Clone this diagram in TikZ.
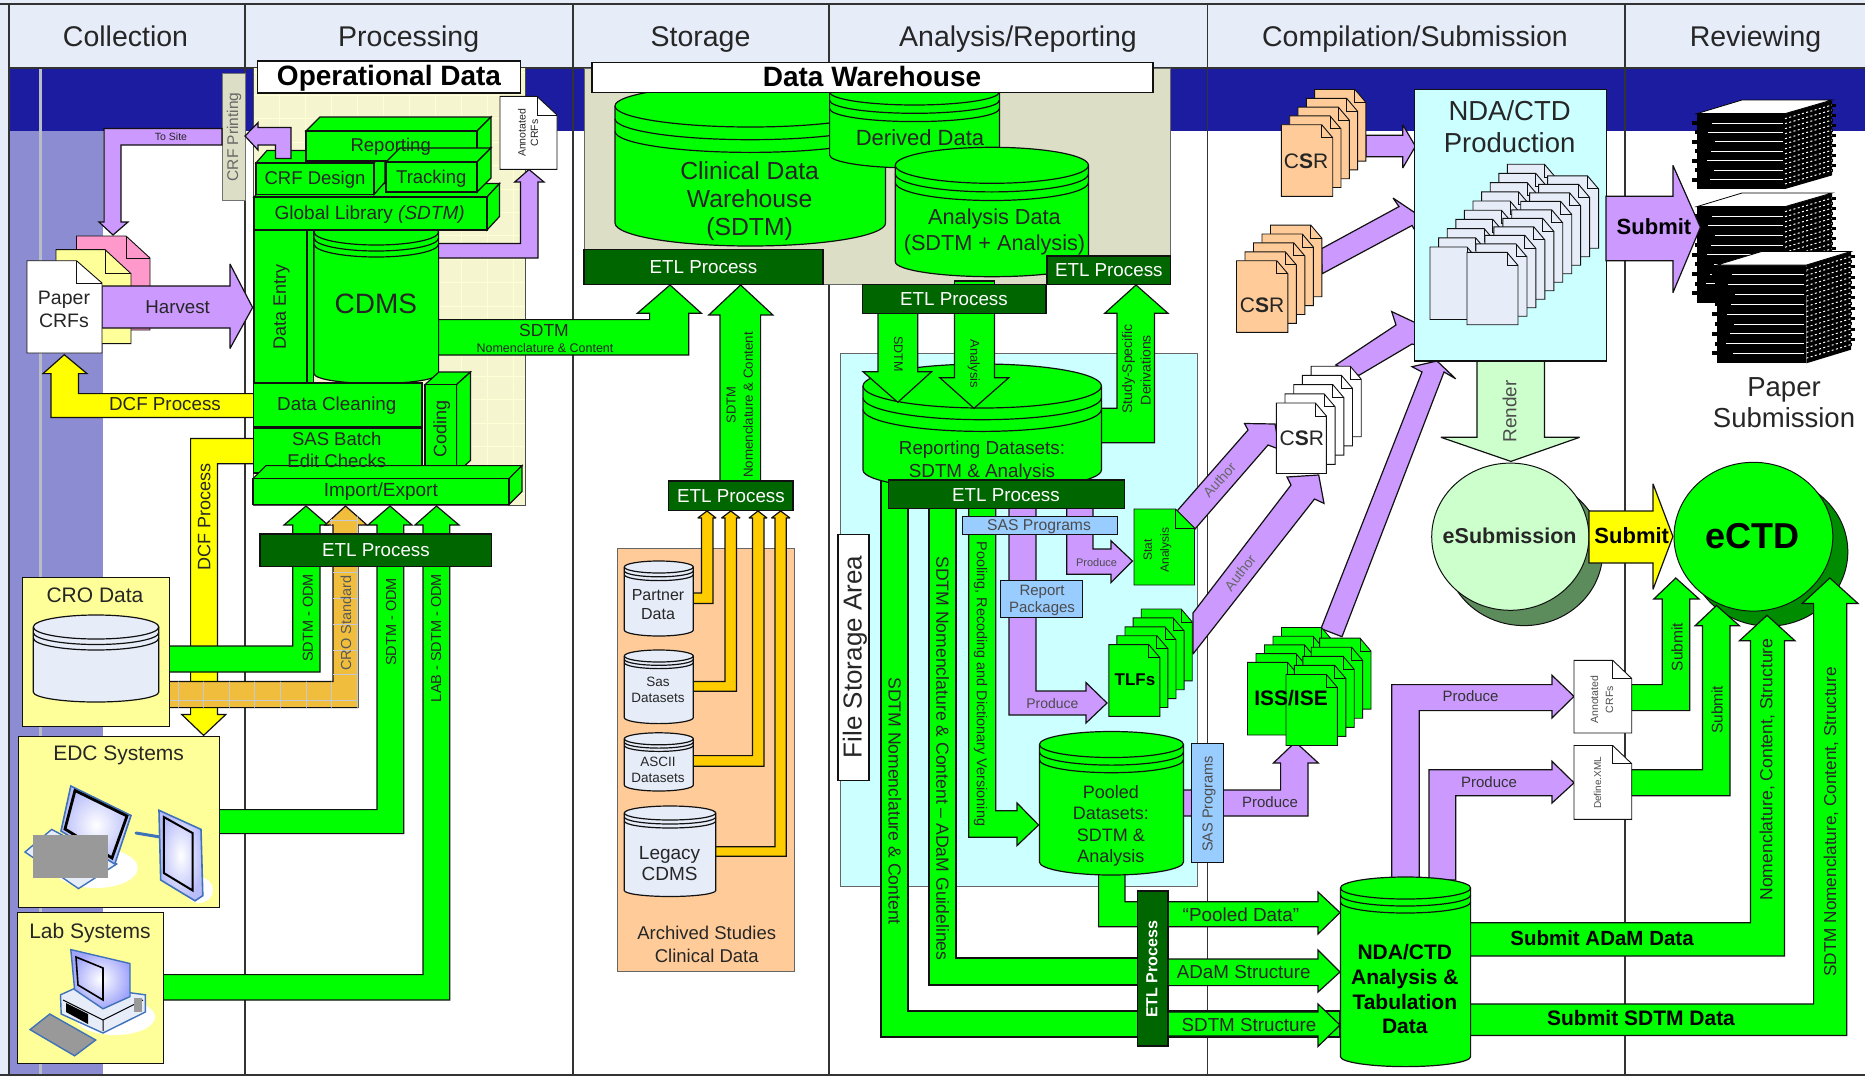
\documentclass[tikz,border=0pt]{standalone}
\usepackage{fontspec}
\setmainfont{Liberation Sans}
\definecolor{grn}{HTML}{00FF00}
\definecolor{dkgrn}{HTML}{006600}
\definecolor{pur}{HTML}{CC99FF}
\definecolor{yel}{HTML}{FFFF00}
\definecolor{org}{HTML}{FFCC00}
\definecolor{tanorg}{HTML}{F0BE3C}
\definecolor{lblue}{HTML}{E6ECF8}
\definecolor{cyanp}{HTML}{CCFFFF}
\definecolor{pale}{HTML}{FFFF99}
\definecolor{peach}{HTML}{FFCC99}
\definecolor{pinkp}{HTML}{FF99CC}
\definecolor{skyb}{HTML}{99CCFF}
\definecolor{lgrn}{HTML}{CCFFCC}
\definecolor{bandc}{HTML}{1C1CA0}
\definecolor{stripe}{HTML}{8C8CD2}
\definecolor{beige}{HTML}{DCDFC6}
\definecolor{ink}{HTML}{111111}
\definecolor{clipb}{HTML}{3F72B8}
\newcommand\fs[2]{\fontsize{#1}{#2}\selectfont}
\newcommand\vs{\leavevmode\vrule width 0pt height .92em depth .2em\relax}
\tikzset{
 every node/.style={execute at begin node=\vs,execute at end node=\vs},
 ol/.style={draw=ink,line width=1.2pt,line join=miter,miter limit=3},
 ga/.style={ol,fill=grn},
 pa/.style={ol,fill=pur},
 ya/.style={ol,fill=yel},
 oa/.style={ol,fill=org},
 ta/.style={ol,fill=tanorg},
 tx/.style={inner sep=0pt,align=center,text=black!85},
 mlt/.style={yshift=-2.4pt},
 etl/.style={draw=ink,line width=1.2pt,fill=dkgrn},
 etltx/.style={inner sep=0pt,align=center,text=white,font=\fs{18.8}{21}},
 thin/.style={draw=ink,line width=.9pt},
}
% front-view database: fill,x1,x2,ycentre,ybottomedge,ry,gap,rybottom
\newcommand\dbcyl[8]{%
 \pgfmathsetmacro\rxx{(#3-#2)/2}%
 \filldraw[ol,fill=#1] (#2,#4) arc[start angle=180,end angle=0,x radius=\rxx pt,y radius=#6pt] -- (#3,#5)
   arc[start angle=0,end angle=-180,x radius=\rxx pt,y radius=#8pt] -- cycle;
 \draw[ol] (#2,#4) arc[start angle=180,end angle=360,x radius=\rxx pt,y radius=#6pt];
 \draw[ol] (#2,{#4+#7}) arc[start angle=180,end angle=360,x radius=\rxx pt,y radius=#6pt];
 \draw[ol] (#2,{#4+2*#7}) arc[start angle=180,end angle=360,x radius=\rxx pt,y radius=#6pt];
}
% 3D box: x1,y1,x2,y2,dx,dy
\newcommand\boxthree[6]{%
 \filldraw[ga] (#1,#2) -- ({#1+#5},{#2-#6}) -- ({#3+#5},{#2-#6}) -- (#3,#2) -- cycle;
 \filldraw[ga] (#3,#2) -- ({#3+#5},{#2-#6}) -- ({#3+#5},{#4-#6}) -- (#3,#4) -- cycle;
 \filldraw[ga] (#1,#2) rectangle (#3,#4);
}
% page: fill,x,y,w,h,foldw,foldh
\newcommand\pagedoc[7]{%
 \filldraw[thin,fill=#1] ({#2},{#3}) -- ({#2+#4-#6},{#3}) -- ({#2+#4},{#3+#7}) -- ({#2+#4},{#3+#5}) -- ({#2},{#3+#5}) -- cycle;
 \draw[thin] ({#2+#4-#6},{#3}) -- ({#2+#4-#6},{#3+#7}) -- ({#2+#4},{#3+#7});
}
% stack of pages: fill,x,y,w,h,lastindex,dx,dy
\newcommand\pagestack[8]{%
 \foreach \i in {#6,...,0}{\pagedoc{#1}{(#2+\i*(#7))}{(#3+\i*(#8))}{#4}{#5}{11}{13}}%
}
% paper pile: xl,xf,xr,ytopfront,ybotfront,rise,topoff,count
\newcommand\paperpile[8]{%
 \fill[black] (#1,#4) -- (#2,#4) -- (#2,#5) -- (#1,#5) -- cycle;
 \fill[black] (#2,#4) -- (#3,{#4-#6}) -- (#3,{#5-#6}) -- (#2,#5) -- cycle;
 \filldraw[fill=white,draw=black,line width=.8pt] (#1,#4) -- ({#1+#7},{#4-#6}) -- (#3,{#4-#6}) -- (#2,#4) -- cycle;
 \foreach \k in {1,...,#8}{%
  \pgfmathsetmacro\yy{#4+\k*(#5-#4)/(#8+1)}%
  \pgfmathsetmacro\xs{#1+8+mod(\k*7,11)}%
  \draw[white,line width=.9pt] (\xs,\yy) -- ({#2-2},\yy);
  \fill[black] ({#1-2-mod(\k,2)*3},{\yy-2}) rectangle (#1,{\yy+2});
 }%
 \foreach \k in {1,...,\numexpr 2*#8\relax}{%
  \pgfmathsetmacro\yz{#4+\k*(#5-#4)/(2*#8+1)}%
  \draw[white,line width=1pt,dash pattern=on 2pt off 2.4pt] (#2,\yz) -- (#3,{\yz-#6});
  \fill[black] (#3,{\yz-#6-1.5}) rectangle ({#3+1+mod(\k,2)*3},{\yz-#6+1.5});
 }%
}
\begin{document}
\begin{tikzpicture}[x=1pt,y=-1pt]
\useasboundingbox (0,0) rectangle (1865,1076);
%----- ground
\fill[white] (0,0) rectangle (1865,1076);
\fill[lblue] (0,0) rectangle (1865,68);
\fill[lblue] (0,0) rectangle (9,1076);
\fill[lblue] (0,1075) rectangle (1865,1076);
\fill[bandc] (9,68) rectangle (1865,131);
\fill[stripe] (9,131) rectangle (103,1075);
\fill[black!20!lblue] (38.5,68) rectangle (42,1075);
\foreach \cx in {9,245,573,829,1207.5,1625}{\draw[black!80,line width=1.2pt] (\cx,4) -- (\cx,1075);}
\draw[black!80,line width=1.2pt] (0,4) -- (1865,4);
\draw[black!80,line width=1.2pt] (9,68) -- (1865,68);
\draw[black!80,line width=1.2pt] (0,1075) -- (1865,1075);
\node[tx,font=\fs{28.5}{30}] (hcol) at (125.5,36) {Collection};
\node[tx,font=\fs{28.5}{30}] (hpro) at (408.7,36) {Processing};
\node[tx,font=\fs{28.5}{30}] (hsto) at (700.5,36) {Storage};
\node[tx,font=\fs{28.5}{30}] (hana) at (1018,36) {Analysis/Reporting};
\node[tx,font=\fs{28.5}{30}] (hcom) at (1415,36) {Compilation/Submission};
\node[tx,font=\fs{28.5}{30}] (hrev) at (1755.5,36) {Reviewing};
%----- panels
\fill[fill={rgb,255:red,245;green,245;blue,207}] (253,68) rectangle (525,505.5);
\begin{scope}
\clip (253,68) rectangle (525,505.5);
\foreach \gx in {253,279,...,530}{\draw[white!60!pale,line width=.8pt] (\gx,68) -- (\gx,506);}
\foreach \gy in {72,95.4,...,510}{\draw[white!60!pale,line width=.8pt] (253,\gy) -- (525,\gy);}
\end{scope}
\draw[black!70,line width=.9pt] (253,68) -- (253,505.5) -- (525,505.5) -- (525,68);
\filldraw[draw=black!60,line width=.9pt,fill=beige] (584.7,68) rectangle (1170.8,284.3);
\filldraw[draw=black!60,line width=.9pt,fill=cyanp] (840,353.3) rectangle (1197.8,886.7);
\filldraw[draw=black!60,line width=.9pt,fill=peach] (617.8,548.4) rectangle (794.5,971.5);
\node[tx,mlt,font=\fs{18.5}{23}] (archived) at (706.7,943.5) {Archived Studies\\Clinical Data};
% back pages of the paper CRFs
\pagedoc{pinkp}{76.5}{236}{73.5}{94}{24}{22}
\pagedoc{pale}{56}{249.6}{75}{94}{26}{24}
%----- CRF printing and site loop
\filldraw[draw=black!55,line width=.9pt,fill=beige] (222,73) rectangle (245,200);
\node[tx,rotate=90,font=\fs{15.5}{17},text=black!60] (crfprint) at (232.5,137) {CRF Printing};
\filldraw[pa] (222,128.5) -- (104,128.5) -- (104,222) -- (99,222) -- (113,235) -- (128,222) -- (121,222) -- (121,145) -- (222,145) -- cycle;
\node[tx,font=\fs{10.5}{12}] (tosite) at (171,136.5) {To Site};
%----- arrows in Processing
\filldraw[pa] (438,243.5) -- (520.5,243.5) -- (520.5,182) -- (514.7,182) -- (529,169.5) -- (544,182) -- (538,182) -- (538,258) -- (438,258) -- cycle;
\filldraw[pa] (102,286) -- (230,286) -- (230,264) -- (252.6,307.5) -- (230,348.5) -- (230,328) -- (102,328) -- cycle;
\filldraw[ya] (254,393.6) -- (78.5,393.6) -- (78.5,373.6) -- (87,373.6) -- (64.3,354.7) -- (43,373.6) -- (51,373.6) -- (51,417.4) -- (254,417.4) -- cycle;
\filldraw[ya] (254,438.4) -- (190.6,438.4) -- (190.6,714.5) -- (181.8,714.5) -- (203.6,735.4) -- (225.8,714.5) -- (217.4,714.5) -- (217.4,463.8) -- (254,463.8) -- cycle;
\filldraw[ga] (438,319.6) -- (649.6,319.6) -- (649.6,313.3) -- (637.3,313.3) -- (670,285) -- (701.4,313.3) -- (688.8,313.3) -- (688.8,355) -- (438,355) -- cycle;
\node[tx,font=\fs{17.5}{20}] (sdtmbar) at (544,330.6) {SDTM};
\node[tx,font=\fs{12.5}{14}] (nomenbar) at (545,347.5) {Nomenclature \& Content};
%----- Green/orange arrows into Import/Export
\filldraw[ga] (169,646) -- (292.8,646) -- (292.8,525) -- (284,525) -- (306,506) -- (328,525) -- (320,525) -- (320,672) -- (169,672) -- cycle;
\def\tanshape{(169,681.5) -- (333,681.5) -- (333,525) -- (325,525) -- (345.5,506) -- (367,525) -- (358,525) -- (358,707.6) -- (169,707.6) -- cycle}
\filldraw[ta] \tanshape;
\begin{scope}
\clip \tanshape;
\foreach \gx in {178,203.6,229,254.5,280,306,331,357}{\draw[black!15!lblue,line width=.9pt] (\gx,500) -- (\gx,708);}
\foreach \gy in {520,546,572,598,624,650,674.5,700.6}{\draw[black!15!lblue,line width=.9pt] (169,\gy) -- (358,\gy);}
\end{scope}
\filldraw[ga] (219,809.6) -- (377,809.6) -- (377,525) -- (368,525) -- (390,506) -- (412,525) -- (403.7,525) -- (403.7,833.6) -- (219,833.6) -- cycle;
\filldraw[ga] (163,974.6) -- (423,974.6) -- (423,525) -- (415,525) -- (436.5,506) -- (459,525) -- (449.7,525) -- (449.7,1000) -- (163,1000) -- cycle;
\filldraw[etl] (260,534) rectangle (491.8,566.5);
\node[etltx] (etlproc) at (376,550) {ETL Process};
\node[tx,rotate=90,font=\fs{14.5}{16}] (odm1) at (307.7,618) {SDTM - ODM};
\node[tx,rotate=90,font=\fs{14.5}{16},text=black!65] (crostd) at (346,623) {CRO Standard};
\node[tx,rotate=90,font=\fs{14.5}{16}] (odm2) at (391,622) {SDTM - ODM};
\node[tx,rotate=90,font=\fs{14.5}{16}] (odm3) at (436,638) {LAB - SDTM - ODM};
%----- Processing stack
\dbcyl{grn}{314}{438.6}{232}{373.6}{13}{6}{10}
\filldraw[ga] (307,230) rectangle (313.5,383);
\filldraw[ga] (254,230) rectangle (307,383);
\node[tx,rotate=90,font=\fs{18}{20}] (dataentry) at (279.4,306.5) {Data Entry};
\node[tx,font=\fs{28}{30}] (cdms) at (375.8,303) {CDMS};
\boxthree{254}{197}{487}{230}{12.5}{13.5}
\boxthree{256}{163}{374}{194.5}{11}{12.5}
\boxthree{306}{131}{477}{161}{14}{14}
\boxthree{386}{162}{477}{192}{14}{14}
\boxthree{425}{384.6}{456.5}{473}{14}{12.6}
\filldraw[ga] (253.5,383) rectangle (422,427);
\filldraw[ga] (253.5,428.7) rectangle (422,473);
\boxthree{253}{478.6}{509}{504.5}{13}{13}
\node[tx,font=\fs{18.5}{21}] (reporting) at (390.7,145) {Reporting};
\node[tx,font=\fs{18.5}{21}] (crfdesign) at (315,178.4) {CRF Design};
\node[tx,font=\fs{18.5}{21}] (tracking) at (431.3,177.3) {Tracking};
\node[tx,font=\fs{19}{21}] (globallib) at (369.7,212.5) {Global Library \textit{(SDTM)}};
\node[tx,font=\fs{18.8}{21}] (cleaning) at (336.8,403.6) {Data Cleaning};
\node[tx,mlt,font=\fs{18.5}{22.4}] (sasbatch) at (336.8,449) {SAS Batch\\Edit Checks};
\node[tx,rotate=90,font=\fs{18}{21}] (coding) at (440,429.4) {Coding};
\node[tx,font=\fs{19}{21}] (importexport) at (380.8,489.7) {Import/Export};
\filldraw[pa] (245,136) -- (258,122.6) -- (258,127.4) -- (291,127.4) -- (291,158.4) -- (275.5,158.4) -- (275.5,145) -- (258,145) -- (258,150) -- cycle;
\node[tx,font=\fs{18.7}{20}] (harvest) at (177.6,306.5) {Harvest};
\node[tx,font=\fs{18.8}{20}] (dcf1) at (165,404) {DCF Process};
\node[tx,rotate=90,font=\fs{18}{20}] (dcf2) at (204,517) {DCF Process};
\filldraw[draw=ink,line width=1.6pt,fill=white] (257.6,61) rectangle (520.5,93);
\node[font=\bfseries\fs{28}{30},inner sep=0pt] (opdata) at (389,76) {Operational Data};
\pagedoc{white}{500}{96.4}{57}{73}{20}{18.6}
\node[tx,rotate=90,font=\fs{10.5}{12.5}] (anno1) at (529,133) {Annotated\\CRFs};
% front paper CRF
\pagedoc{white}{27}{260.7}{75}{92.3}{25.5}{22.3}
\node[tx,mlt,font=\fs{19.5}{23}] (paperc) at (64,309) {Paper\\CRFs};
%----- source boxes
\filldraw[thin,fill=pale] (22,577.7) rectangle (169.5,726.7);
\node[tx,font=\fs{21}{24}] (crod) at (95,595) {CRO Data};
\dbcyl{lblue}{33.3}{158.8}{627}{692}{12}{5.5}{10}
\filldraw[thin,fill=pale] (18.8,736) rectangle (219.3,907);
\node[tx,font=\fs{21}{24}] (edc) at (118.6,753.5) {EDC Systems};
\filldraw[thin,fill=pale] (17,912) rectangle (163.4,1063);
\node[tx,font=\fs{21}{24}] (lab) at (90,931) {Lab Systems};
% laptop
\fill[white] (95.7,868) ellipse[x radius=42pt,y radius=20pt];
\filldraw[draw=clipb,line width=1.4pt,fill=lblue] (25,852) -- (51.7,829.4) -- (116.7,864) -- (78.5,888.6) -- cycle;
\shadedraw[draw=clipb,line width=1.6pt,inner color=white,outer color=lblue!80!blue] (70.8,786) -- (131,815.5) -- (114.8,864) -- (61,831) -- cycle;
\draw[black,line width=2.8pt] (75,790.5) -- (127,816) -- (112,858) -- (65,829) -- cycle;
\fill[black!40] (33,834.7) rectangle (107.5,877.5);
\draw[clipb,line width=3pt,line cap=round] (136,833) -- (172,839);
% PDA
\fill[white] (199,890) ellipse[x radius=14pt,y radius=13pt];
\shadedraw[draw=clipb,line width=1.6pt,inner color=white,outer color=lblue!80!blue] (159,810.3) -- (201,829.4) -- (202.8,895.6) -- (195,900.8) -- (160.7,880) -- cycle;
\draw[black,line width=2pt] (163.8,817) -- (192.5,833) -- (192.5,890.4) -- (163.8,873) -- cycle;
% computer
\fill[white] (115,1017) ellipse[x radius=40pt,y radius=18pt];
\filldraw[draw=clipb,line width=1.4pt,fill=lblue] (60.5,994.8) -- (80,986) -- (145.4,994.8) -- (145.4,1012) -- (103,1033) -- (61.2,1014) -- cycle;
\draw[black,line width=1pt] (63,1000) -- (103,1020) -- (143,1000) (103,1020) -- (103,1031);
\fill[black] (66,1003) -- (88,1014) -- (88,1024) -- (66,1012) -- cycle;
\shadedraw[draw=clipb,line width=1.4pt,inner color=white,outer color=lblue!70!blue] (70.8,949.6) -- (130,963.5) -- (130,996.6) -- (103,1008.8) -- (74.6,989.6) -- cycle;
\draw[black,line width=1.6pt] (76,957) -- (103,968) -- (103,1000) -- (78,985) -- cycle;
\fill[black!40] (134,998) rectangle (142.4,1012);
\filldraw[draw=clipb,line width=1.4pt,fill=black!40] (30,1029.6) -- (49.8,1014) -- (95.7,1040) -- (74.6,1055.8) -- cycle;
%----- Storage: warehouse
\dbcyl{grn}{615}{885.5}{106}{223}{21}{12.7}{23}
\dbcyl{grn}{829.6}{999.4}{92}{155}{13}{8.3}{13}
\dbcyl{grn}{895.3}{1088.4}{165.3}{261.7}{18}{8.6}{15}
\node[tx,mlt,font=\fs{24.7}{28}] (cdw) at (749.6,199) {Clinical Data\\Warehouse\\(SDTM)};
\node[tx,font=\fs{22}{24}] (derived) at (920,137.3) {Derived Data};
\node[tx,mlt,font=\fs{21.7}{26}] (analysisdata) at (994.5,229.7) {Analysis Data\\(SDTM + Analysis)};
\filldraw[draw=ink,line width=1.6pt,fill=white] (592,62.3) rectangle (1153,92.3);
\node[font=\bfseries\fs{28}{30},inner sep=0pt] (dwtitle) at (872,76) {Data Warehouse};
%----- ETL -> warehouse arrows
\filldraw[ga] (720,482) -- (720,315) -- (708.8,315) -- (740.6,285) -- (772.9,315) -- (760.6,315) -- (760.6,482) -- cycle;
\node[tx,rotate=90,font=\fs{13}{15}] (sdtmup) at (731,405) {SDTM};
\node[tx,rotate=90,font=\fs{13.3}{15}] (nomenup) at (748,405) {Nomenclature \& Content};
\filldraw[etl] (584,249.3) rectangle (823,284.3);
\node[etltx] (etlw) at (703.5,266.7) {ETL Process};
\filldraw[ga] (954.5,281) rectangle (994.5,285);
\filldraw[etl] (1047,256) rectangle (1170.8,284.3);
\node[etltx] (etlr) at (1108.8,270) {ETL Process};
\filldraw[etl] (668.8,481) rectangle (792.9,510.5);
\node[etltx] (etla) at (731,496) {ETL Process};
%----- Archived cylinders and orange arrows
\filldraw[oa] (693,593) -- (701.4,593) -- (701.4,518) -- (697.8,518) -- (707,511) -- (716,518) -- (712.9,518) -- (712.9,603.5) -- (693,603.5) -- cycle;
\filldraw[oa] (693,681.4) -- (725,681.4) -- (725,518) -- (721.5,518) -- (730.8,511) -- (740,518) -- (736.5,518) -- (736.5,691.3) -- (693,691.3) -- cycle;
\filldraw[oa] (693,755.6) -- (752.4,755.6) -- (752.4,518) -- (749,518) -- (758,511) -- (767,518) -- (763.9,518) -- (763.9,766.2) -- (693,766.2) -- cycle;
\filldraw[oa] (715,846.8) -- (774.9,846.8) -- (774.9,518) -- (771.5,518) -- (780.6,511) -- (790,518) -- (786.3,518) -- (786.3,856.3) -- (715,856.3) -- cycle;
\dbcyl{lblue}{624.3}{693.3}{567}{630}{6}{3.8}{6}
\dbcyl{lblue}{624.3}{693.3}{656}{717.6}{6}{3.3}{6}
\dbcyl{lblue}{624.3}{693.3}{738.8}{785}{6}{3.3}{6}
\dbcyl{lblue}{624.3}{715.7}{813}{890.5}{7}{4}{6}
\node[tx,mlt,font=\fs{16}{19.5}] (partner) at (658,603.5) {Partner\\Data};
\node[tx,mlt,font=\fs{13.5}{16}] (sas) at (658,688.6) {Sas\\Datasets};
\node[tx,mlt,font=\fs{13.5}{16}] (ascii) at (658,768.5) {ASCII\\Datasets};
\node[tx,mlt,font=\fs{19}{21.5}] (legacy) at (669.6,863.2) {Legacy\\CDMS};
%----- Analysis / Reporting arrows
\filldraw[ga] (881,478) -- (908,478) -- (908,1011) -- (1340,1011) -- (1340,1037) -- (881,1037) -- cycle;
\filldraw[ga] (1160,1012) -- (1318,1012) -- (1318,1004) -- (1340,1025) -- (1318,1046.5) -- (1318,1036) -- (1160,1036) -- cycle;
\filldraw[ga] (929,505) -- (956,505) -- (956,958) -- (1160,958) -- (1160,985) -- (929,985) -- cycle;
\filldraw[ga] (1160,959) -- (1318,959) -- (1318,950) -- (1340,972) -- (1318,992) -- (1318,985.6) -- (1160,985.6) -- cycle;
\filldraw[ga] (1098.6,870) -- (1125,870) -- (1125,901.7) -- (1318,901.7) -- (1318,892) -- (1340,912.6) -- (1318,934) -- (1318,926.8) -- (1098.6,926.8) -- cycle;
\filldraw[ga] (968.8,505) -- (995.7,505) -- (995.7,810.7) -- (1017,810.7) -- (1017,803) -- (1038.6,825) -- (1017,845.6) -- (1017,837.3) -- (968.8,837.3) -- cycle;
\filldraw[pa] (1009,505) -- (1036,505) -- (1036,691) -- (1086,691) -- (1086,682.6) -- (1107,703) -- (1086,723) -- (1086,715) -- (1009,715) -- cycle;
\filldraw[pa] (1066.7,505) -- (1093,505) -- (1093,549) -- (1111,549) -- (1111,540.8) -- (1132.4,561) -- (1111,582.6) -- (1111,574.3) -- (1066.7,574.3) -- cycle;
\filldraw[ga] (1101,408.3) -- (1117,408.3) -- (1117,313.3) -- (1104.7,313.3) -- (1136,285) -- (1168,313.3) -- (1154.5,313.3) -- (1154.5,442.7) -- (1101,442.7) -- cycle;
\node[tx,rotate=90,font=\fs{14}{16}] (study) at (1127,369) {Study-Specific};
\node[tx,rotate=90,font=\fs{14}{16}] (deriv) at (1145.5,370) {Derivations};
\dbcyl{grn}{863}{1101.4}{386}{470}{22}{11.7}{20}
\filldraw[ga] (878,312) -- (917.8,312) -- (917.8,371.7) -- (931.6,371.7) -- (897.8,402.3) -- (863,371.7) -- (878,371.7) -- cycle;
\filldraw[ga] (954.5,312) -- (994.5,312) -- (994.5,377.7) -- (1008.8,377.7) -- (974,408.3) -- (939.8,377.7) -- (954.5,377.7) -- cycle;
\node[tx,rotate=-90,font=\fs{12.5}{14}] (sdtmdown) at (898.6,354) {SDTM};
\node[tx,rotate=-90,font=\fs{13}{15}] (analysisdown) at (975,364) {Analysis};
\filldraw[etl] (862.6,284.3) rectangle (1046,313.3);
\node[etltx] (etlm) at (954,299) {ETL Process};
\node[tx,mlt,font=\fs{18.8}{22.3}] (reportds) at (982,458.8) {Reporting Datasets:\\SDTM \& Analysis};
\filldraw[etl] (888.4,480) rectangle (1124.3,508.3);
\node[etltx] (etlrep) at (1006,494.5) {ETL Process};
\filldraw[draw=ink,line width=1.6pt,fill=white] (837.8,534.4) rectangle (869,780.3);
\node[tx,rotate=90,font=\fs{26}{28}] (fsa) at (852.4,657) {File Storage Area};
\filldraw[thin,fill=skyb] (962.6,516.9) rectangle (1117.8,534.4);
\node[tx,font=\fs{15.7}{17},text=black!70] (sasp) at (1039,524.5) {SAS Programs};
\filldraw[thin,fill=skyb] (1000,580.7) rectangle (1082.6,617.6);
\node[tx,mlt,font=\fs{15}{17.2},text=black!70] (reportp) at (1042,598) {Report\\Packages};
\node[tx,rotate=-90,font=\fs{17.6}{20}] (vsdtm) at (895,801) {SDTM Nomenclature \& Content};
\node[tx,rotate=-90,font=\fs{17.6}{20}] (vadam) at (942.6,758.5) {SDTM Nomenclature \& Content -- ADaM Guidelines};
\node[tx,rotate=-90,font=\fs{14.4}{16}] (vpool) at (982,684) {Pooling, Recoding and Dictionary Versioning};
\node[tx,font=\fs{14}{16},text=black!70] (prodt) at (1052.4,703) {Produce};
\node[tx,font=\fs{11}{13},text=black!70] (prods) at (1096.5,563) {Produce};
% Author arrows
\filldraw[pa] (1177,511) -- (1248,430) -- (1244.5,423.5) -- (1275,424) -- (1279.7,449.4) -- (1268,445) -- (1195,529) -- cycle;
\filldraw[pa] (1193,613) -- (1291,485) -- (1287,477) -- (1318.7,475) -- (1324,503.4) -- (1314.5,499) -- (1193,654) -- cycle;
\node[tx,rotate=48,font=\fs{14}{16},text=black!60] (auth1) at (1219.5,480) {Author};
\node[tx,rotate=52,font=\fs{14}{16},text=black!60] (auth2) at (1240,572.7) {Author};
% Stat analysis and TLFs
\pagedoc{grn}{1134}{509}{60.5}{76}{19}{19}
\node[tx,rotate=90,font=\fs{12}{17}] (stat) at (1157.5,550) {Stat\\Analysis};
\pagestack{grn}{1108.8}{644.6}{51}{71.8}{4}{8.1}{-8.9}
\node[font=\bfseries\fs{17}{19},inner sep=0pt] (tlfs) at (1135,679) {TLFs};
% Pooled and SAS vertical
\filldraw[pa] (1183,790) -- (1280.6,790) -- (1280.6,763) -- (1273.4,763) -- (1295.4,742) -- (1318.3,763) -- (1308,763) -- (1308,816) -- (1183,816) -- cycle;
\node[tx,font=\fs{15}{17},text=black!80] (prodi) at (1270,802) {Produce};
\dbcyl{grn}{1039.4}{1183.5}{744.5}{862}{13}{7.6}{13}
\node[tx,mlt,font=\fs{18}{21.2}] (pooled) at (1110.8,823.5) {Pooled\\Datasets:\\SDTM \&\\Analysis};
\filldraw[thin,fill=skyb] (1191.6,743.4) rectangle (1223.7,862);
\node[tx,rotate=90,font=\fs{14.5}{16},text=black!70] (sasv) at (1207.5,804) {SAS Programs};
\filldraw[etl] (1137.3,891) rectangle (1168,1046);
\node[rotate=90,inner sep=0pt,text=white,font=\bfseries\fs{16}{20}] (etlv) at (1151.6,969.5) {ETL Process};
\node[tx,font=\fs{18.9}{20}] (pooledl) at (1241,914.6) {``Pooled Data''};
\node[tx,font=\fs{18.8}{20}] (adaml) at (1243.7,972) {ADaM Structure};
\node[tx,font=\fs{18.8}{20}] (sdtml) at (1249,1025) {SDTM Structure};
%----- Compilation: arrows into NDA
\filldraw[pa] (1321,628.6) -- (1422,372) -- (1412,366.7) -- (1437,361) -- (1455.7,378.8) -- (1444,372) -- (1342,636.7) -- cycle;
\filldraw[pa] (1366,135.3) -- (1402.7,135.3) -- (1402.7,124.7) -- (1415.4,146.3) -- (1402.7,168) -- (1402.7,156.7) -- (1366,156.7) -- cycle;
\filldraw[pa] (1321.7,248.6) -- (1399,206.6) -- (1393,198) -- (1416,213.5) -- (1417.6,235) -- (1412,225.5) -- (1322,273.8) -- cycle;
\filldraw[pa] (1335.7,365) -- (1396,325) -- (1391.7,311.6) -- (1416,323) -- (1419,346) -- (1412,344) -- (1359,375.3) -- cycle;
\filldraw[ol,fill=lgrn] (1477,360) -- (1544.4,360) -- (1544.4,437.3) -- (1579.6,437.3) -- (1510.9,461.4) -- (1440.9,437.3) -- (1477,437.3) -- cycle;
\node[tx,rotate=90,font=\fs{19}{21},text=black!70] (render) at (1509.6,411.5) {Render};
\filldraw[ol,fill=cyanp] (1414.6,89.5) rectangle (1606.3,361);
\node[tx,mlt,font=\fs{27.5}{32}] (ndaprod) at (1509.6,127) {NDA/CTD\\Production};
\pagestack{lblue}{1430}{247}{48}{72.5}{9}{8.6}{-9.2}
\pagestack{lblue}{1467}{252.4}{51}{72.3}{9}{8.95}{-8.5}
\pagestack{peach}{1281.4}{124.7}{51.3}{71.6}{4}{8.3}{-8.8}
\node[tx,font=\fs{21}{23},text=black!85] (csr1) at (1306,160.8) {C\textbf{S}R};
\pagestack{peach}{1236.5}{260.7}{51.3}{71.6}{4}{8.5}{-8.9}
\node[tx,font=\fs{21}{23}] (csr2) at (1262,304.8) {C\textbf{S}R};
\pagestack{white}{1276.3}{403}{50.1}{70.5}{4}{8.7}{-9.2}
\node[tx,font=\fs{21}{23}] (csr3) at (1301.8,438) {C\textbf{S}R};
% ISS / ISE
\pagestack{grn}{1247.5}{662.3}{51}{72.7}{4}{8.5}{-8.7}
\pagestack{grn}{1286}{674.5}{51.4}{71}{4}{8.4}{-9.1}
\node[font=\bfseries\fs{21}{23},inner sep=0pt] (iss) at (1291,698.4) {ISS/ISE};
%----- Reviewing
\paperpile{1697}{1785}{1832}{113.6}{189}{13.6}{45}{7}
\paperpile{1697}{1785}{1832}{206.6}{303}{13.6}{45}{9}
\paperpile{1717}{1806.4}{1851}{265}{363.3}{13.6}{45}{9}
\filldraw[pa] (1606,196.3) -- (1672.9,196.3) -- (1672.9,165.3) -- (1700.4,227.3) -- (1672.9,292.7) -- (1672.9,260.7) -- (1606,260.7) -- cycle;
\node[font=\bfseries\fs{22}{24},inner sep=0pt] (sub1) at (1654,226.6) {Submit};
\node[tx,mlt,font=\fs{27.5}{31}] (papersub) at (1784,403) {Paper\\Submission};
%----- Lower right arrows (behind eCTD heads)
\filldraw[pa] (1391.7,880) -- (1391.7,684.6) -- (1552,684.6) -- (1552,675.3) -- (1574,696.4) -- (1552,717.9) -- (1552,710.6) -- (1419.3,710.6) -- (1419.3,880) -- cycle;
\filldraw[pa] (1429,880) -- (1429,769.8) -- (1552,769.8) -- (1552,761.3) -- (1574,782.8) -- (1552,803) -- (1552,795.8) -- (1455.7,795.8) -- (1455.7,880) -- cycle;
\node[tx,font=\fs{15}{17},text=black!80] (prod1) at (1470.6,696.4) {Produce};
\node[tx,font=\fs{15}{17},text=black!80] (prod2) at (1489,781.6) {Produce};
% eSubmission and eCTD
\filldraw[draw=ink,line width=1pt,fill=black!50!lgrn!90!green] (1524,552) ellipse[x radius=78.6pt,y radius=73.6pt];
\filldraw[draw=ink,line width=1pt,fill=lgrn] (1510.3,536.7) ellipse[x radius=78.6pt,y radius=73.6pt];
\node[font=\bfseries\fs{21.5}{23},inner sep=0pt,text=black!85] (esub) at (1509.6,536) {eSubmission};
\filldraw[ol,fill=yel] (1589,511) -- (1653,511) -- (1653,483.8) -- (1672.9,536.5) -- (1653,589.3) -- (1653,563) -- (1589,563) -- cycle;
\node[font=\bfseries\fs{22}{24},inner sep=0pt] (sub2) at (1631.7,536) {Submit};
\filldraw[draw=ink,line width=1pt,fill=green!55!black] (1768.4,551.7) ellipse[x radius=79.4pt,y radius=74.4pt];
\filldraw[draw=ink,line width=1pt,fill=grn] (1753.4,536.7) ellipse[x radius=79.4pt,y radius=74.4pt];
\node[font=\bfseries\fs{36}{38},inner sep=0pt] (ectd) at (1752,536) {eCTD};
\filldraw[ga] (1631,684.6) -- (1662.3,684.6) -- (1662.3,599) -- (1653.8,599) -- (1675.8,578) -- (1699,599) -- (1689.8,599) -- (1689.8,710.6) -- (1631,710.6) -- cycle;
\filldraw[ga] (1631,769.8) -- (1702.5,769.8) -- (1702.5,625.8) -- (1695,625.8) -- (1716.5,605.5) -- (1739.4,625.8) -- (1730,625.8) -- (1730,795.8) -- (1631,795.8) -- cycle;
\filldraw[ga] (1470,922.8) -- (1750.5,922.8) -- (1750.5,640.8) -- (1739.4,640.8) -- (1767,615.3) -- (1795,640.8) -- (1784.4,640.8) -- (1784.4,956) -- (1470,956) -- cycle;
\filldraw[ga] (1470,1003.9) -- (1813.6,1003.9) -- (1813.6,603.5) -- (1802.2,603.5) -- (1829.8,578) -- (1858,603.5) -- (1846.7,603.5) -- (1846.7,1035.5) -- (1470,1035.5) -- cycle;
\pagedoc{white}{1574}{660.3}{57.7}{72.7}{19}{18.2}
\node[tx,rotate=90,font=\fs{10.5}{15},text=black!70] (anno2) at (1602.8,699.6) {Annotated\\CRFs};
\pagedoc{white}{1574}{745.5}{57.7}{73.8}{19}{18.2}
\node[tx,rotate=90,font=\fs{10}{12},text=black!70] (definex) at (1597.4,782.8) {Define.XML};
\node[tx,rotate=90,font=\fs{15.5}{16}] (subs1) at (1677,647) {Submit};
\node[tx,rotate=90,font=\fs{15.5}{16}] (subs2) at (1717,709.8) {Submit};
\node[tx,rotate=90,font=\fs{17.6}{20}] (nomen1) at (1766,769.4) {Nomenclature, Content, Structure};
\node[tx,rotate=90,font=\fs{17.2}{20}] (nomen2) at (1830,822) {SDTM Nomenclature, Content, Structure};
\node[font=\bfseries\fs{20.5}{22},inner sep=0pt] (subadam) at (1602,938) {Submit ADaM Data};
\node[font=\bfseries\fs{21}{23},inner sep=0pt] (subsdtm) at (1641,1018) {Submit SDTM Data};
% NDA data cylinder
\dbcyl{grn}{1340.4}{1470.6}{888}{1056.6}{11}{7}{10}
\node[mlt,font=\bfseries\fs{21}{24.7},inner sep=0pt,align=center] (ndadata) at (1404.8,989) {NDA/CTD\\Analysis \&\\Tabulation\\Data};
\end{tikzpicture}
\end{document}
